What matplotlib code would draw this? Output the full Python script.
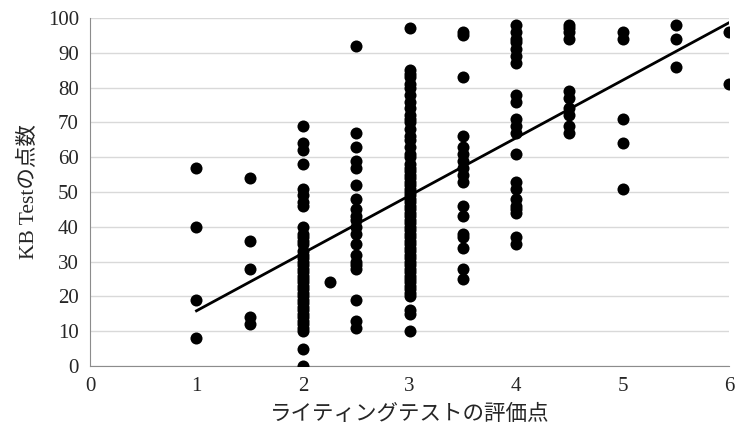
import numpy as np
import matplotlib.pyplot as plt

plt.rcParams['font.family'] = ['Liberation Serif', 'Noto Sans CJK JP']

# scores, grouped by rating
x_levels = [1, 1.5, 2, 2.25, 2.5, 3, 3.5, 4, 4.5, 5, 5.5, 6]
scores = [
    [57, 40, 19, 8],
    [54, 36, 28, 14, 12],
    [69, 64, 62, 58, 51, 49, 47, 46, 40, 38, 37, 36, 35, 33, 32, 31, 30, 29, 28,
     27, 26, 25, 24, 23, 22, 21, 20, 19, 18, 17, 16, 15, 14, 13, 12, 11, 10, 5, 0],
    [24],
    [92, 67, 63, 59, 57, 52, 48, 45, 43, 42, 40, 38, 35, 32, 30, 29, 28, 19, 13, 11],
    [97, 85, 84, 83, 81, 80, 78, 76, 74, 72, 71, 70, 68, 66, 65, 63, 61, 60, 58,
     57, 56, 55, 54, 53, 52, 51, 50, 49, 48, 47, 46, 45, 44, 43, 42, 41, 40, 39,
     38, 37, 36, 35, 34, 33, 32, 31, 30, 29, 28, 27, 26, 25, 24, 23, 22, 21, 20,
     16, 15, 10],
    [96, 95, 83, 66, 63, 61, 59, 57, 55, 53, 46, 43, 38, 37, 34, 28, 25],
    [98, 96, 94, 93, 91, 89, 87, 78, 76, 71, 69, 67, 61, 53, 51, 48, 46, 45, 44, 37, 35],
    [98, 97, 96, 94, 79, 77, 74, 72, 69, 67],
    [96, 94, 71, 64, 51],
    [98, 94, 86],
    [96, 81],
]

xs = []
ys = []
for xv, col in zip(x_levels, scores):
    for s in col:
        xs.append(xv)
        ys.append(s)
xs = np.array(xs)
ys = np.array(ys)

# linear trend line
slope, intercept = np.polyfit(xs, ys, 1)
line_x = np.array([xs.min(), xs.max()])

fig = plt.figure(figsize=(7.35, 4.33), dpi=100)
ax = fig.add_axes([0.1224, 0.1547, 0.8696, 0.8037])

ax.scatter(xs, ys, s=75, color='black', zorder=3, linewidths=0)
ax.plot(line_x, slope * line_x + intercept, color='black', lw=2, zorder=4)

ax.set_xlim(0, 6)
ax.set_ylim(0, 100)
ax.set_xticks(range(0, 7))
ax.set_yticks(range(0, 101, 10))
ax.yaxis.grid(True, color='#d9d9d9', lw=1)
ax.set_axisbelow(True)
ax.tick_params(length=0, labelsize=15, colors='#262626', pad=8)
for side in ['top', 'right']:
    ax.spines[side].set_visible(False)
for side in ['left', 'bottom']:
    ax.spines[side].set_color('#8c8c8c')

ax.set_xlabel('ライティングテストの評価点', fontsize=15.5, color='#262626', labelpad=6)
ax.set_ylabel('KB Testの点数', fontsize=15.5, color='#262626', labelpad=6)

fig.savefig('out.png', dpi=100)
